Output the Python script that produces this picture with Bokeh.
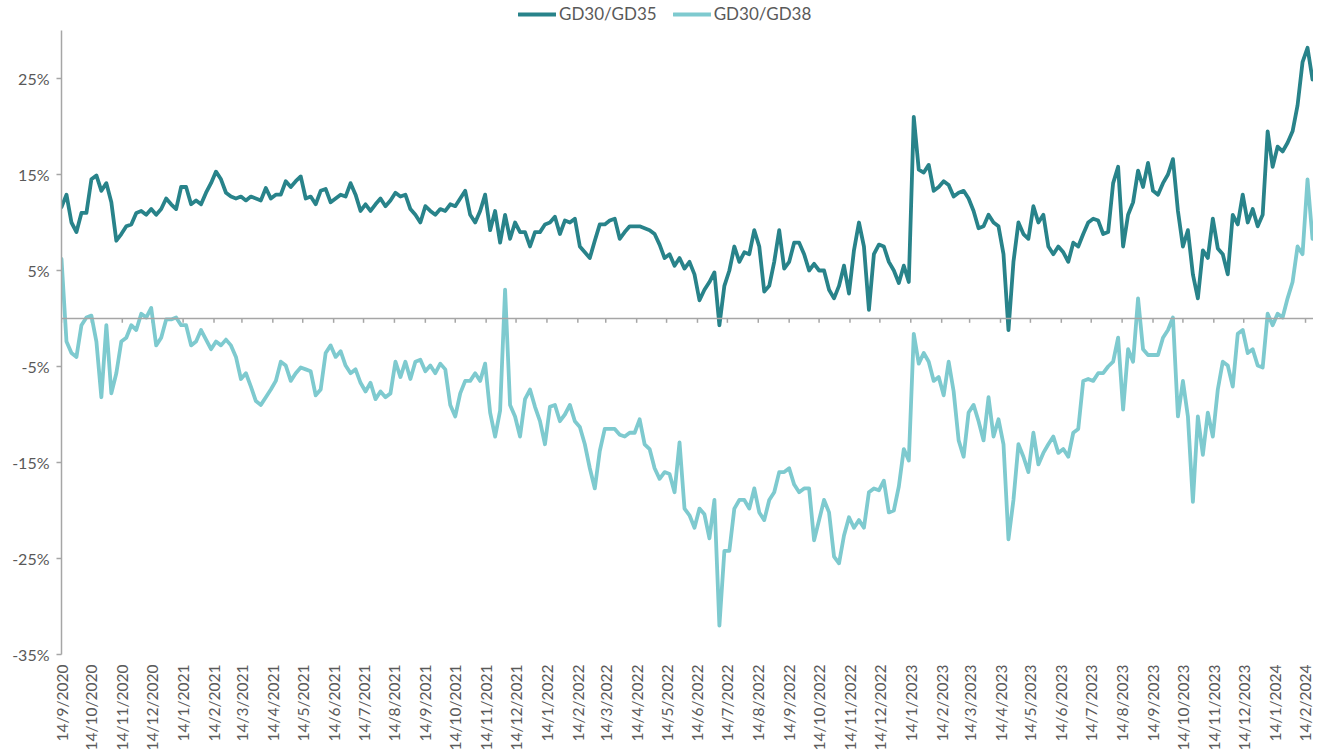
import math
import pandas as pd
from bokeh.plotting import figure
from bokeh.layouts import column
from bokeh.models import (FixedTicker, PrintfTickFormatter, Span, Legend, LegendItem,
                          ColumnDataSource)
from bokeh.embed import file_html
from bokeh.resources import INLINE

# ---------------- data (one reading every 5 days) ----------------
start_date = "2020-09-14"
step = "5D"

gd35 = [
    11.6, 12.9, 10.0, 9.0, 11.0, 11.0, 14.5, 14.9, 13.3, 14.1, 12.1, 8.1, 8.8, 9.6, 9.8, 11.0, 11.2, 10.8, 11.4, 10.8, 11.4,
    12.5, 11.9, 11.4, 13.7, 13.7, 11.9, 12.3, 11.9, 13.1, 14.1, 15.3, 14.5, 13.1, 12.7, 12.5, 12.7, 12.3, 12.7, 12.5, 12.3, 13.6,
    12.5, 12.9, 12.9, 14.3, 13.7, 14.3, 14.8, 12.5, 12.7, 11.9, 13.3, 13.5, 12.1, 12.5, 12.9, 12.7, 14.1, 12.9, 11.2, 11.9, 11.2,
    11.9, 12.5, 11.7, 12.3, 13.1, 12.7, 12.9, 11.4, 10.8, 10.0, 11.7, 11.2, 10.8, 11.4, 11.2, 11.9, 11.7, 12.5, 13.3, 10.8, 10.0, 11.2,
    12.9, 9.2, 11.2, 7.9, 10.8, 8.3, 10.0, 9.0, 9.0, 7.5, 9.0, 9.0, 9.8, 10.0, 10.6, 8.8, 10.2, 10.0, 10.4, 7.5, 6.9,
    6.3, 8.1, 9.8, 9.8, 10.2, 10.4, 8.3, 9.0, 9.6, 9.6, 9.6, 9.4, 9.2, 8.8, 7.7, 6.3, 6.7, 5.5, 6.3, 5.2, 5.9,
    4.6, 1.9, 3.0, 3.8, 4.8, -0.7, 3.4, 5.0, 7.5, 5.9, 6.9, 6.7, 9.2, 7.5, 2.8, 3.4, 5.9, 9.2, 5.2, 5.9, 7.9,
    7.9, 6.7, 5.0, 5.7, 5.0, 5.0, 3.0, 2.1, 3.4, 5.5, 2.6, 7.1, 10.0, 7.5, 0.9, 6.7, 7.7, 7.5, 5.9, 5.0, 3.7,
    5.5, 3.8, 21.0, 15.5, 15.2, 16.0, 13.3, 13.7, 14.3, 13.9, 12.7, 13.1, 13.3, 12.5, 11.2, 9.4, 9.6, 10.8, 10.0, 9.6, 6.7,
    -1.2, 5.9, 10.0, 8.8, 8.3, 11.7, 10.0, 10.8, 7.5, 6.7, 7.5, 6.9, 5.9, 7.9, 7.5, 8.8, 10.0, 10.4, 10.2, 8.8, 9.0,
    14.1, 15.8, 7.5, 10.8, 12.1, 15.4, 13.7, 16.2, 13.3, 12.9, 14.1, 15.0, 16.6, 11.2, 7.5, 9.2, 4.6, 2.1, 7.1, 6.3,
    10.4, 7.3, 6.7, 4.6, 10.8, 9.8, 12.9, 10.0, 11.4, 9.6, 10.8, 19.5, 15.8, 17.9, 17.4, 18.3, 19.5, 22.2, 26.7, 28.2, 24.9,
]

gd38 = [
    6.2, -2.4, -3.6, -4.0, -0.7, 0.1, 0.3, -2.4, -8.2, -0.7, -7.8, -5.7, -2.4, -2.0, -0.7, -1.2, 0.5, 0.1, 1.1, -2.8, -2.0,
    -0.1, -0.1, 0.1, -0.7, -0.7, -2.8, -2.4, -1.2, -2.2, -3.2, -2.4, -2.8, -2.2, -2.8, -4.0, -6.3, -5.7, -7.1, -8.6, -9.0, -8.2,
    -7.4, -6.5, -4.5, -4.9, -6.5, -5.7, -5.1, -5.3, -5.5, -8.0, -7.4, -3.6, -2.8, -4.0, -3.4, -4.9, -5.7, -5.3, -6.7, -7.6, -6.7,
    -8.4, -7.6, -8.2, -7.8, -4.5, -6.1, -4.5, -6.3, -4.5, -4.3, -5.5, -4.9, -5.7, -4.7, -5.3, -9.0, -10.2, -7.8, -6.5, -6.5, -5.7, -6.5,
    -4.7, -9.8, -12.3, -9.6, 3.0, -9.0, -10.2, -12.3, -8.4, -7.4, -9.2, -10.7, -13.1, -9.2, -9.0, -10.7, -10.0, -9.0, -10.7, -11.3, -13.1,
    -15.6, -17.7, -13.8, -11.5, -11.5, -11.5, -12.1, -12.3, -11.9, -11.9, -10.5, -13.1, -13.6, -15.6, -16.7, -16.0, -16.2, -18.1, -12.9, -19.8, -20.5,
    -21.8, -19.8, -20.4, -22.9, -18.9, -32.0, -24.2, -24.2, -19.8, -18.9, -18.9, -19.8, -17.7, -20.2, -21.0, -18.9, -18.1, -16.0, -16.0, -15.6, -17.3,
    -18.1, -17.7, -17.7, -23.1, -21.0, -18.9, -20.2, -24.8, -25.5, -22.6, -20.7, -21.8, -21.0, -21.8, -18.1, -17.7, -17.9, -16.9, -20.2, -20.0, -17.5,
    -13.6, -14.8, -1.6, -4.7, -3.6, -4.5, -6.5, -6.1, -8.0, -4.5, -7.6, -12.7, -14.4, -9.8, -9.0, -10.7, -12.7, -8.2, -12.3, -10.5, -13.1,
    -23.0, -18.9, -13.1, -14.4, -16.0, -11.9, -15.2, -14.0, -13.1, -12.3, -14.0, -13.6, -14.4, -11.9, -11.5, -6.5, -6.3, -6.5, -5.7, -5.7, -5.0,
    -4.5, -2.0, -9.5, -3.2, -4.5, 2.1, -3.2, -3.8, -3.8, -3.8, -2.0, -1.2, 0.1, -10.2, -6.5, -10.2, -19.1, -10.2, -14.2, -9.8,
    -12.3, -7.4, -4.5, -4.9, -7.1, -1.6, -1.2, -3.6, -3.2, -4.9, -5.1, 0.5, -0.7, 0.5, 0.1, 2.1, 3.8, 7.5, 6.7, 14.5, 8.3,
]

tick_labels = [
    "14/9/2020", "14/10/2020", "14/11/2020", "14/12/2020",
    "14/1/2021", "14/2/2021", "14/3/2021", "14/4/2021", "14/5/2021", "14/6/2021",
    "14/7/2021", "14/8/2021", "14/9/2021", "14/10/2021", "14/11/2021", "14/12/2021",
    "14/1/2022", "14/2/2022", "14/3/2022", "14/4/2022", "14/5/2022", "14/6/2022",
    "14/7/2022", "14/8/2022", "14/9/2022", "14/10/2022", "14/11/2022", "14/12/2022",
    "14/1/2023", "14/2/2023", "14/3/2023", "14/4/2023", "14/5/2023", "14/6/2023",
    "14/7/2023", "14/8/2023", "14/9/2023", "14/10/2023", "14/11/2023", "14/12/2023",
    "14/1/2024", "14/2/2024",
]
y_ticks = [-35, -25, -15, -5, 5, 15, 25]
series_names = ["GD30/GD35", "GD30/GD38"]

# ---------------- styling ----------------
DARK = "#28838a"
LIGHT = "#7ecacf"
AXIS_GREY = "#a6a6a6"
TEXT_GREY = "#595959"
FONT = "Lato"
LW = 3.8
TOTAL_W = 1313

dates = pd.date_range(start_date, periods=len(gd35), freq=step)
src = ColumnDataSource(dict(date=dates, gd35=gd35, gd38=gd38))

tick_dates = pd.to_datetime(tick_labels, format="%d/%m/%Y")
tick_ms = [int(t.value // 10**6) for t in tick_dates]

# ---------------- main chart ----------------
p = figure(x_axis_type="datetime",
           x_range=(pd.Timestamp("2020-09-14"), pd.Timestamp("2024-02-22")),
           y_range=(-35, 30),
           frame_width=1252, frame_height=624,
           min_border_left=61, min_border_right=0, min_border_top=0, min_border_bottom=0,
           output_backend="svg", toolbar_location=None,
           background_fill_color="white", border_fill_color="white")
p.outline_line_color = None
p.xgrid.visible = False
p.ygrid.visible = False

# zero line with small month ticks hanging below it
p.add_layout(Span(location=0, dimension="width", line_color=AXIS_GREY, line_width=1.5))
p.segment(x0=tick_dates, y0=0, x1=tick_dates, y1=-0.45, line_color=AXIS_GREY, line_width=1.5)

p.line("date", "gd35", source=src, line_color=DARK, line_width=LW,
       line_join="round", line_cap="round")
p.line("date", "gd38", source=src, line_color=LIGHT, line_width=LW,
       line_join="round", line_cap="round")

# y axis
yax = p.yaxis[0]
yax.ticker = FixedTicker(ticks=y_ticks)
yax.formatter = PrintfTickFormatter(format="%d%%")
yax.axis_line_color = AXIS_GREY
yax.axis_line_width = 1.5
yax.major_tick_line_color = AXIS_GREY
yax.major_tick_line_width = 1.5
yax.major_tick_out = 5
yax.major_tick_in = 0
yax.minor_tick_line_color = None
yax.major_label_text_color = TEXT_GREY
yax.major_label_text_font = FONT
yax.major_label_text_font_size = "16px"
yax.major_label_standoff = 7

# x axis (labels only, at the bottom)
xax = p.xaxis[0]
xax.ticker = FixedTicker(ticks=tick_ms)
xax.major_label_overrides = dict(zip(tick_ms, tick_labels))
xax.major_label_orientation = math.pi / 2
xax.axis_line_color = None
xax.major_tick_line_color = None
xax.minor_tick_line_color = None
xax.major_tick_out = 0
xax.major_tick_in = 0
xax.major_label_standoff = 10
xax.major_label_text_color = TEXT_GREY
xax.major_label_text_font = FONT
xax.major_label_text_font_size = "15.5px"

# ---------------- legend strip above the chart ----------------
# the strip's x range lies far from the data, so its lines only serve the legend keys
leg = figure(width=TOTAL_W, height=30, x_axis_location=None, y_axis_location=None,
             min_border=0, output_backend="svg", toolbar_location=None,
             x_range=(0, 1), y_range=(0, 1))
leg.outline_line_color = None
leg.xgrid.visible = False
leg.ygrid.visible = False
k1 = leg.line("date", "gd35", source=src, line_color=DARK, line_width=LW, line_cap="round")
k2 = leg.line("date", "gd38", source=src, line_color=LIGHT, line_width=LW, line_cap="round")

legend = Legend(items=[LegendItem(label=series_names[0], renderers=[k1]),
                       LegendItem(label=series_names[1], renderers=[k2])],
                orientation="horizontal", location=(457, 6),
                glyph_width=38, glyph_height=16, label_height=16,
                label_standoff=3, spacing=16, padding=0, margin=0,
                border_line_alpha=0, background_fill_alpha=0,
                label_text_font=FONT, label_text_font_size="17px",
                label_text_color=TEXT_GREY)
leg.add_layout(legend, "center")

layout = column(leg, p, spacing=0)
open("out.html", "w").write(file_html(layout, INLINE))
